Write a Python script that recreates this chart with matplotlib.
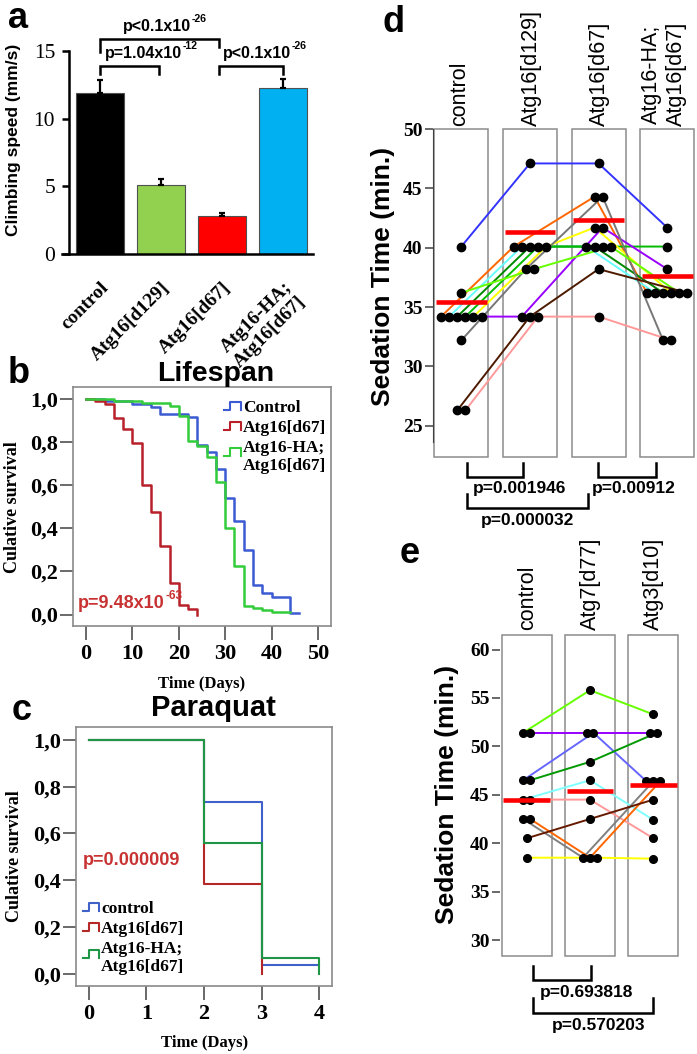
import numpy as np
import matplotlib
matplotlib.use("Agg")
import matplotlib.pyplot as plt
from matplotlib.patches import Rectangle

SERIF = "Liberation Serif"
SANS = "Liberation Sans"
plt.rcParams["font.family"] = SANS

# ---------------- data ----------------
# a: climbing speed
climb_groups = ["control", "Atg16[d129]", "Atg16[d67]", "Atg16-HA;\nAtg16[d67]"]
climb_speed = [11.9, 5.1, 2.83, 12.26]
climb_sem = [0.95, 0.45, 0.2, 0.67]
climb_colors = ["#000000", "#92d050", "#ff0000", "#00b0f0"]
climb_yticks = [0, 5, 10, 15]

# b: lifespan (Kaplan-Meier steps)
life_ctrl_t = [0, 4, 10, 14, 16, 22, 24, 26, 28, 30, 32, 34, 36, 38, 40, 44, 46]
life_ctrl_s = [1.0, 0.99, 0.975, 0.962, 0.93, 0.915, 0.785, 0.755, 0.675, 0.54, 0.432,
               0.30, 0.139, 0.10, 0.08, 0.008, 0.008]
life_d67_t = [0, 2, 4, 6, 8, 10, 12, 14, 16, 18, 20, 22, 24]
life_d67_s = [1.0, 0.99, 0.977, 0.914, 0.861, 0.798, 0.602, 0.474, 0.319, 0.147, 0.046, 0.026, 0.0]
life_resc_t = [0, 6, 12, 18, 20, 22, 24, 26, 28, 30, 32, 34, 36, 38, 40, 44]
life_resc_s = [1.0, 0.99, 0.98, 0.97, 0.922, 0.806, 0.78, 0.733, 0.617, 0.40, 0.225,
               0.039, 0.032, 0.02, 0.012, 0.012]
life_xticks = [0, 10, 20, 30, 40, 50]

# c: paraquat
pq_ctrl_t = [0, 2, 3, 4]
pq_ctrl_s = [1.0, 0.733, 0.039, 0.039]
pq_d67_t = [0, 2, 3]
pq_d67_s = [1.0, 0.385, 0.0]
pq_resc_t = [0, 2, 3, 4]
pq_resc_s = [1.0, 0.561, 0.066, 0.0]
pq_xticks = [0, 1, 2, 3, 4]

surv_yticks = [0.0, 0.2, 0.4, 0.6, 0.8, 1.0]
surv_ylabels = ["0,0", "0,2", "0,4", "0,6", "0,8", "1,0"]

# d: sedation time, one entry per replicate line
sed_d_groups = ["control", "Atg16[d129]", "Atg16[d67]", "Atg16-HA;\nAtg16[d67]"]
sed_d_colors = ["#3333ff", "#ff6600", "#66ffff", "#008800", "#00bb00", "#ffff00",
                "#9900ff", "#777777", "#66ff00", "#4d1a00", "#ff9999"]
sed_d_ctrl = [40.1, 34.2, 34.2, 34.2, 34.2, 34.2, 34.2, 32.2, 36.2, 26.3, 26.3]
sed_d_d129 = [47.1, 40.1, 40.1, 40.1, 40.1, 40.1, 34.2, 38.2, 38.2, 34.2, 34.2]
sed_d_d67 = [47.1, 44.3, 40.1, 40.1, 40.1, 41.7, 41.7, 44.3, 40.1, 38.2, 34.2]
sed_d_resc = [41.7, 36.2, 36.2, 36.2, 40.1, 36.2, 38.2, 32.2, 36.2, 36.2, 32.2]
sed_d_mean = [35.45, 41.3, 42.3, 37.6]
sed_d_yticks = [25, 30, 35, 40, 45, 50]

# e: sedation time, Atg7 / Atg3
sed_e_groups = ["control", "Atg7[d77]", "Atg3[d10]"]
sed_e_colors = ["#66ff00", "#9900ff", "#6666ff", "#009900", "#80ffff", "#ff9999",
                "#808080", "#ff6600", "#661a00", "#ffff00"]
sed_e_ctrl = [51.4, 51.4, 46.5, 46.5, 44.5, 44.5, 42.5, 42.5, 40.5, 38.5]
sed_e_atg7 = [55.8, 51.4, 51.4, 48.4, 46.5, 44.5, 38.5, 38.5, 42.5, 38.5]
sed_e_atg3 = [53.3, 51.4, 46.4, 51.4, 42.4, 40.5, 46.4, 46.4, 44.5, 38.4]
sed_e_mean = [44.45, 45.4, 45.97]
sed_e_yticks = [30, 35, 40, 45, 50, 55, 60]

W, H = 697, 1054


def box(l, t, r, b):
    return [l / W, 1 - b / H, (r - l) / W, (b - t) / H]


def spread(vals, step):
    vals = np.asarray(vals)
    off = np.zeros(len(vals))
    for v in np.unique(vals):
        idx = np.where(vals == v)[0]
        off[idx] = (np.arange(len(idx)) - (len(idx) - 1) / 2) * step
    return off


fig = plt.figure(figsize=(W / 100, H / 100), dpi=100)

# ---------------- a ----------------
ax = fig.add_axes(box(69, 51, 313, 254))
x = np.arange(len(climb_groups))
ax.bar(x, climb_speed, width=0.78, color=climb_colors, edgecolor="#505050", lw=0.8,
       yerr=[np.zeros(len(x)), climb_sem], capsize=2.5,
       error_kw=dict(elinewidth=1.6, capthick=1.6, ecolor="black"))
ax.set_xlim(-0.51, 3.49)
ax.set_ylim(0, 15)
for s in ["top", "right"]:
    ax.spines[s].set_visible(False)
for s in ["left", "bottom"]:
    ax.spines[s].set_linewidth(1.8)
ax.spines["bottom"].set_bounds(-0.62, 3.49)
ax.set_yticks(climb_yticks, [str(v) for v in climb_yticks], fontfamily=SERIF, fontsize=15.5)
ax.tick_params(axis="y", direction="out", length=5, width=1.8, pad=5)
ax.set_xticks(x, climb_groups, rotation=45, ha="right", rotation_mode="anchor",
              fontfamily=SERIF, fontweight="bold", fontsize=14, multialignment="right")
ax.tick_params(axis="x", length=0, pad=18)


def surv_axes(rect, xlim, xticks):
    a = fig.add_axes(rect)
    for s in a.spines.values():
        s.set_color("#8a8a8a")
        s.set_linewidth(1.2)
    a.set_xlim(*xlim)
    a.set_ylim(-0.053, 1.056)
    a.set_yticks(surv_yticks, surv_ylabels, fontfamily=SERIF, fontweight="bold", fontsize=16)
    a.set_xticks(xticks, [str(v) for v in xticks], fontfamily=SERIF, fontweight="bold", fontsize=16)
    a.tick_params(axis="y", length=9.5, width=1.2, color="#505050", pad=1.5)
    a.tick_params(axis="x", length=10, width=1.2, color="#505050", pad=3)
    return a


# ---------------- b ----------------
ax = surv_axes(box(73, 387, 331, 626), (-2.8, 52.8), life_xticks)
ax.step(life_ctrl_t, life_ctrl_s, where="post", color="#3c5ad2", lw=1.8)
ax.step(life_d67_t, life_d67_s, where="post", color="#b8202a", lw=1.8)
ax.step(life_resc_t, life_resc_s, where="post", color="#33cc3a", lw=1.8)

# ---------------- c ----------------
ax = surv_axes(box(76, 727, 332, 986), (-0.22, 4.22), pq_xticks)
ax.step(pq_ctrl_t, pq_ctrl_s, where="post", color="#4062c8", lw=1.5)
ax.step(pq_d67_t, pq_d67_s, where="post", color="#b42828", lw=1.5)
ax.step(pq_resc_t, pq_resc_s, where="post", color="#1e9646", lw=1.5)


def sedation(rect, xlim, ylim, groups, series, colors, means, yticks, step, ms, spine_bottom):
    a = fig.add_axes(rect)
    a.set_xlim(*xlim)
    a.set_ylim(*ylim)
    for s in ["top", "right", "bottom"]:
        a.spines[s].set_visible(False)
    if spine_bottom is None:
        a.spines["left"].set_visible(False)
    else:
        a.spines["left"].set_bounds(spine_bottom, yticks[-1])
        a.spines["left"].set_color("#404040")
    a.set_xticks([])
    a.set_yticks(yticks, [str(v) for v in yticks], fontfamily=SERIF, fontweight="bold", fontsize=14)
    a.tick_params(axis="y", length=6, width=1.1, color="#404040", pad=1.5)
    n = len(groups)
    for i in range(n):
        a.add_patch(Rectangle((i - 0.394, ylim[0]), 0.788, ylim[1] - ylim[0], fill=False,
                              edgecolor="#8c8c8c", lw=1.1, clip_on=False, zorder=1))
    offs = [spread(s, step) for s in series]
    for k, c in enumerate(colors):
        xs = [i + offs[i][k] for i in range(n)]
        ys = [series[i][k] for i in range(n)]
        a.plot(xs, ys, color=c, lw=1.4, zorder=2, clip_on=False)
    for i in range(n):
        a.plot(i + offs[i], series[i], "o", color="black", ms=ms, zorder=3, clip_on=False)
        a.plot([i - 0.37, i + 0.37], [means[i], means[i]], color="#ff0000", lw=3.3,
               zorder=4, solid_capstyle="butt")
    return a


# ---------------- d ----------------
sedation(box(432.7, 129, 696, 456.7), (-0.417, 3.42), (22.4, 50), sed_d_groups,
         [sed_d_ctrl, sed_d_d129, sed_d_d67, sed_d_resc], sed_d_colors, sed_d_mean,
         sed_d_yticks, 0.118, 6, 23.6)

# ---------------- e ----------------
sedation(box(500, 635, 680, 955.5), (-0.42, 2.42), (28.4, 61.5), sed_e_groups,
         [sed_e_ctrl, sed_e_atg7, sed_e_atg3], sed_e_colors, sed_e_mean,
         sed_e_yticks, 0.11, 5.5, None)

# ---------------- text overlay (pixel coordinates) ----------------
ov = fig.add_axes([0, 0, 1, 1])
ov.set_xlim(0, W)
ov.set_ylim(H, 0)
ov.axis("off")


def ptext(px, py, base, sup, color="black", fs=11.5):
    # p-value with a small raised exponent
    t = ov.text(px, py, base, color=color, fontsize=fs, fontweight="bold", va="baseline")
    ov.annotate(sup, xy=(1, 1), xycoords=t, xytext=(0.5, 3.5), textcoords="offset points",
                color=color, fontsize=fs * 0.66, fontweight="bold", ha="left", va="top")


for lab, px, py in [("a", 8, 28), ("b", 8, 383), ("c", 12, 720), ("d", 383, 32), ("e", 400, 563)]:
    ov.text(px, py, lab, fontsize=26, fontweight="bold", va="baseline")

# a annotations
bk = dict(color="black", lw=1.8, solid_joinstyle="miter")
ov.plot([100, 100, 219, 219], [52, 39, 39, 47], **bk)
ov.plot([100, 100, 159, 159], [74, 66, 66, 74], **bk)
ov.plot([219, 219, 283, 283], [74, 66, 66, 74], **bk)
ptext(123, 31, "p<0.1x10", "-26")
ptext(105, 58, "p=1.04x10", "-12")
ptext(223, 58, "p<0.1x10", "-26")
ov.text(14, 140, "Climbing speed (mm/s)", rotation=90, ha="center", va="center",
        fontsize=12.5, fontweight="bold")

# b/c titles, labels, legends
ov.text(216, 381, "Lifespan", ha="center", va="baseline", fontsize=20.5, fontweight="bold")
ov.text(213, 716, "Paraquat", ha="center", va="baseline", fontsize=21, fontweight="bold")
sv = dict(rotation=90, ha="center", va="center", fontfamily=SERIF, fontweight="bold", fontsize=13)
ov.text(13, 507, "Culative survival", **sv)
ov.text(15, 856, "Culative survival", **sv)
tx = dict(ha="center", va="baseline", fontfamily=SERIF, fontweight="bold", fontsize=12)
ov.text(202, 688, "Time (Days)", **tx)
ov.text(205, 1047, "Time (Days)", **tx)
ptext(78, 608, "p=9.48x10", "-63", color="#c83232", fs=13)
ov.text(83, 865, "p=0.000009", color="#c83232", fontsize=13, fontweight="bold", va="baseline")


def step_handle(x0, x1, ytop, ybot, color):
    xm = x0 + 0.35 * (x1 - x0)
    ov.plot([x0, xm, xm, x1, x1], [ybot, ybot, ytop, ytop, ybot], color=color, lw=1.5)


lg = dict(fontfamily=SERIF, fontweight="bold", fontsize=12.5, va="baseline")
step_handle(224, 241, 402, 410, "#3c5ad2")
step_handle(224, 241, 422, 430, "#b8202a")
step_handle(224, 241, 448, 456, "#33cc3a")
ov.text(243, 412, "Control", **lg)
ov.text(243, 432, "Atg16[d67]", **lg)
ov.text(243, 452, "Atg16-HA;", **lg)
ov.text(243, 470, "Atg16[d67]", **lg)

step_handle(83, 99, 903, 911, "#4062c8")
step_handle(83, 99, 923, 931, "#b42828")
step_handle(83, 99, 950, 958, "#1e9646")
ov.text(101, 913, "control", **lg)
ov.text(101, 933, "Atg16[d67]", **lg)
ov.text(101, 953, "Atg16-HA;", **lg)
ov.text(101, 971, "Atg16[d67]", **lg)

# d / e group labels and axis labels
gl = dict(rotation=90, ha="center", va="bottom", fontsize=15.5)
for lab, px in zip(sed_d_groups, [460, 531.7, 599.3, 664]):
    ov.text(px, 126, lab, **gl)
for lab, px in zip(sed_e_groups, [528, 590, 653]):
    ov.text(px, 630, lab, **gl)
yl = dict(rotation=90, ha="center", va="center", fontsize=19, fontweight="bold")
ov.text(383, 276, "Sedation Time (min.)", **yl)
ov.text(447, 794, "Sedation Time (min.)", **yl)

# d / e brackets
ov.plot([466.7, 466.7, 522.7, 522.7], [462.7, 476.7, 476.7, 462.7], **bk)
ov.plot([598.3, 598.3, 655.7, 655.7], [462.7, 476.7, 476.7, 462.7], **bk)
ov.plot([466.7, 466.7, 588.3, 588.3], [494, 508.3, 508.3, 494], **bk)
pd_ = dict(fontsize=12.5, fontweight="bold", ha="center", va="baseline")
ov.text(520, 493, "p=0.001946", **pd_)
ov.text(634, 493, "p=0.00912", **pd_)
ov.text(528, 525, "p=0.000032", **pd_)

ov.plot([533.3, 533.3, 590.7, 590.7], [966, 980, 980, 966], **bk)
ov.plot([533.3, 533.3, 652.7, 652.7], [998.3, 1013.3, 1013.3, 998.3], **bk)
ov.text(586.7, 996.7, "p=0.693818", **pd_)
ov.text(598.3, 1030, "p=0.570203", **pd_)

fig.savefig("out.png", dpi=100)
